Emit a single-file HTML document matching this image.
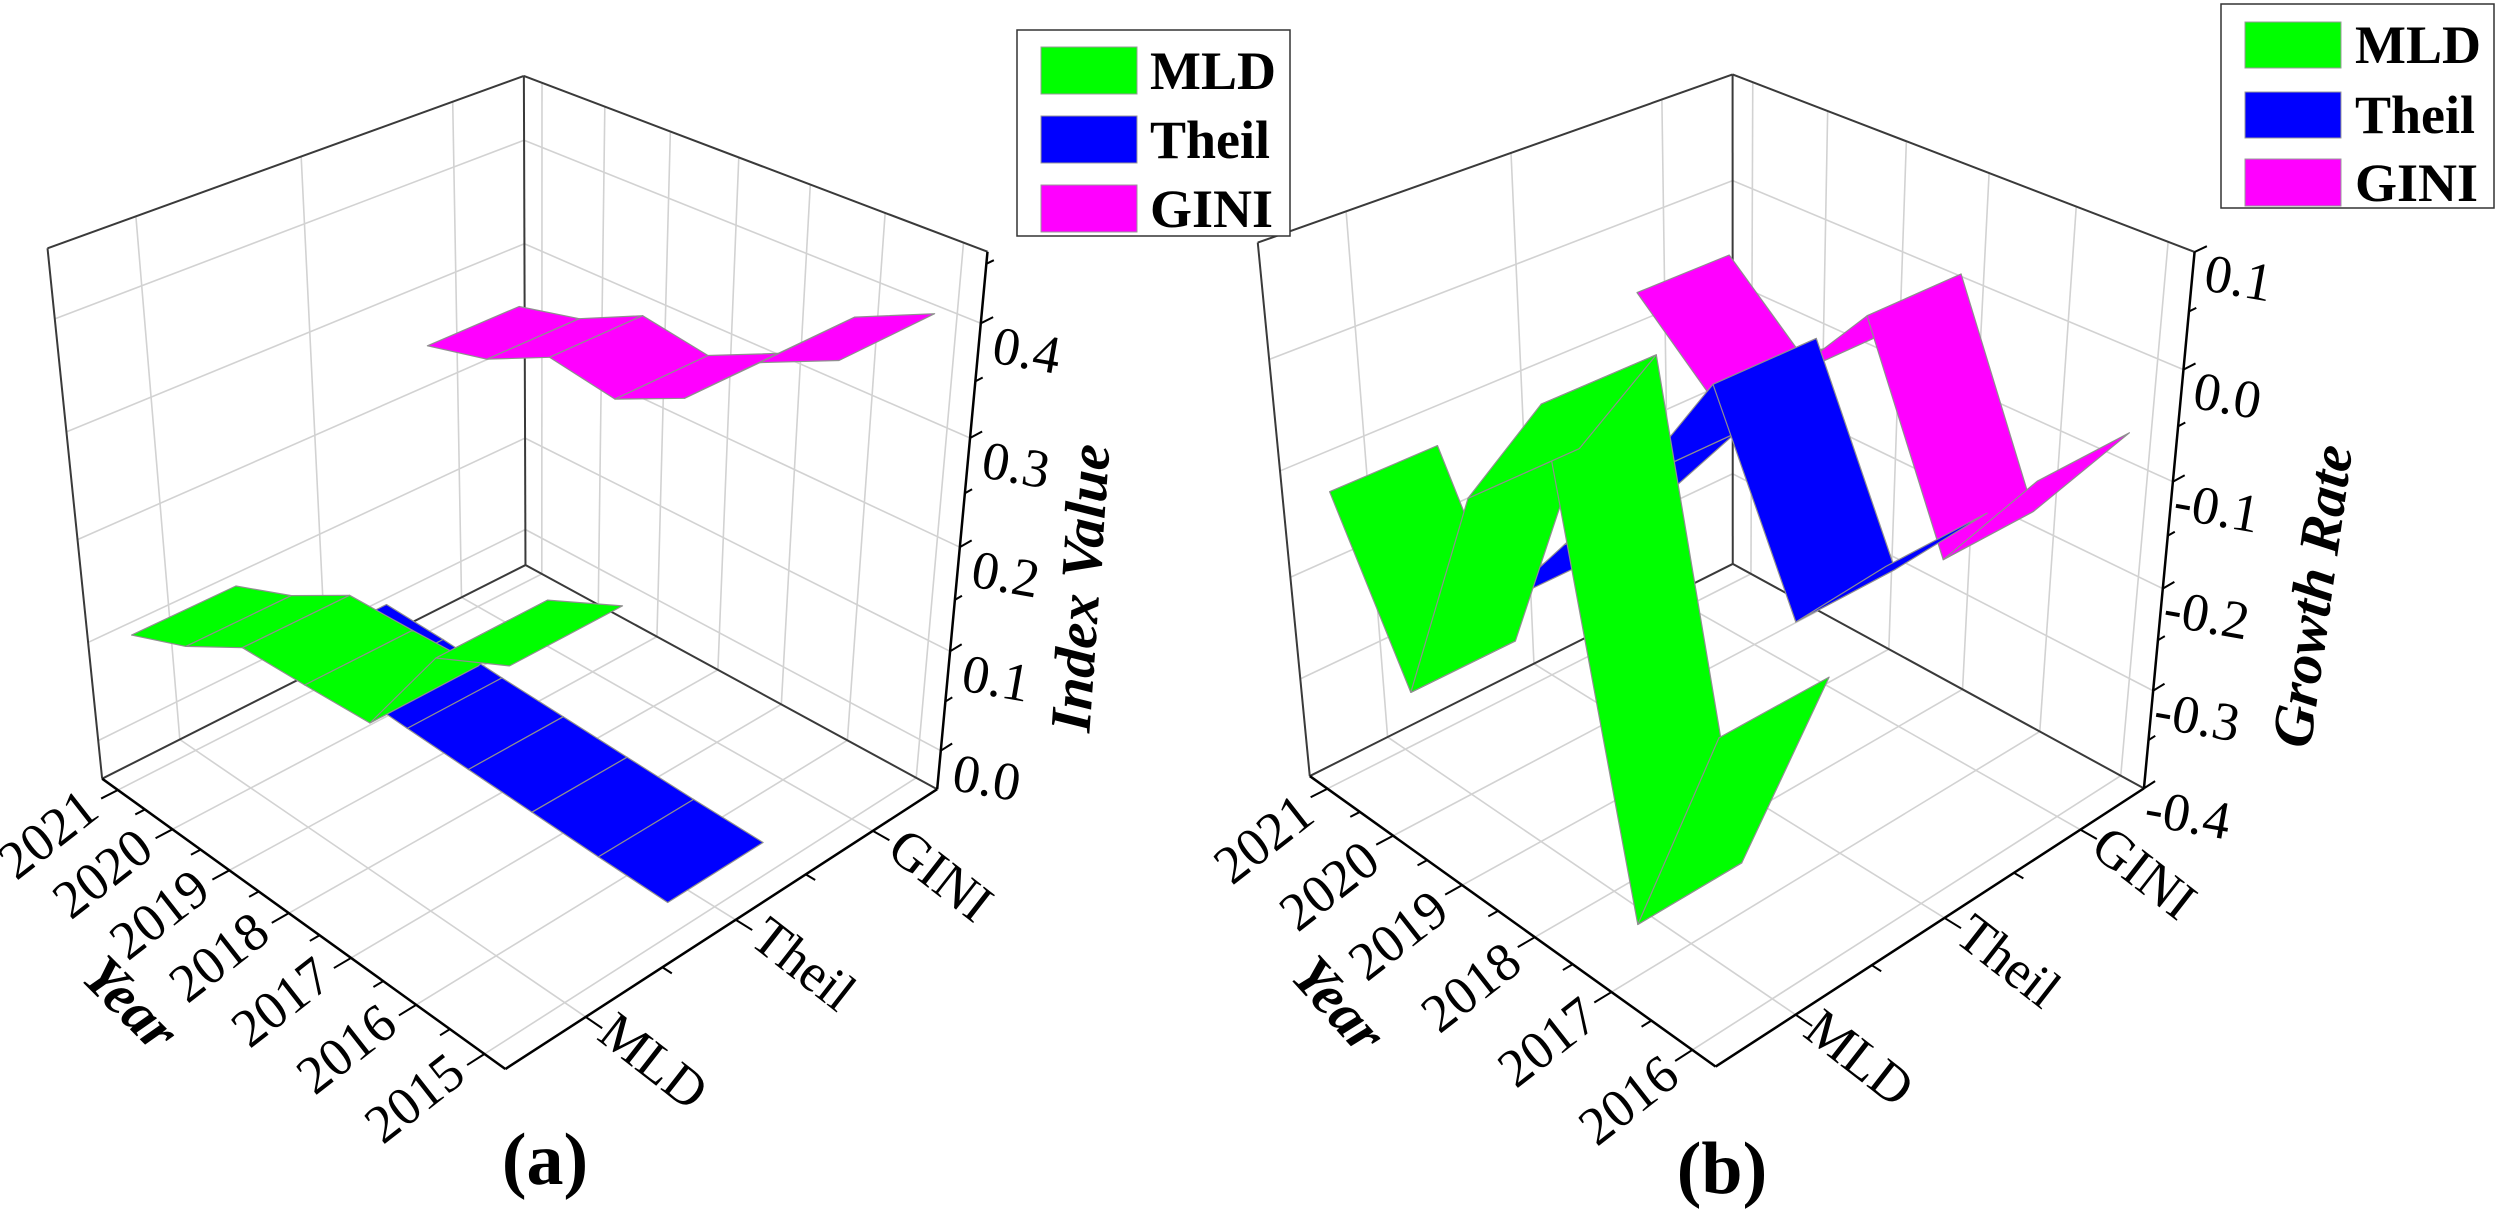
<!DOCTYPE html>
<html><head><meta charset="utf-8"><style>
html,body{margin:0;padding:0;background:#fff;}
svg{display:block;font-family:"Liberation Serif",serif;}
</style></head><body>
<svg id="fig" width="2500" height="1218" viewBox="0 0 2500 1218" xmlns="http://www.w3.org/2000/svg">
<rect x="0" y="0" width="2500" height="1218" fill="#fff"/>
<g id="panelA"></g>
<g id="panelB"></g>

<g>
<rect x="1017" y="30" width="273" height="206" fill="#fff" stroke="#333" stroke-width="1.5"/>
<g><rect x="1041" y="47" width="96" height="47" fill="#00ff00" stroke="#999"/><text x="1150" y="89" font-size="54" font-weight="bold">MLD</text></g>
<g><rect x="1041" y="116" width="96" height="47" fill="#0000ff" stroke="#999"/><text x="1150" y="158" font-size="54" font-weight="bold">Theil</text></g>
<g><rect x="1041" y="185" width="96" height="47" fill="#ff00ff" stroke="#999"/><text x="1150" y="227" font-size="54" font-weight="bold">GINI</text></g>
</g>
<g>
<rect x="2221" y="4" width="273" height="204" fill="#fff" stroke="#333" stroke-width="1.5"/>
<g><rect x="2245" y="22" width="96" height="46" fill="#00ff00" stroke="#999"/><text x="2355" y="63" font-size="54" font-weight="bold">MLD</text></g>
<g><rect x="2245" y="92" width="96" height="46" fill="#0000ff" stroke="#999"/><text x="2355" y="133" font-size="54" font-weight="bold">Theil</text></g>
<g><rect x="2245" y="159" width="96" height="47" fill="#ff00ff" stroke="#999"/><text x="2355" y="201" font-size="54" font-weight="bold">GINI</text></g>
</g>

<text x="0" y="0" transform="translate(1080,588) rotate(-86)" font-size="58" font-weight="bold" font-style="italic" text-anchor="middle" dominant-baseline="central">Index Value</text>
<text x="0" y="0" transform="translate(2312,596) rotate(-82)" font-size="58" font-weight="bold" font-style="italic" text-anchor="middle" dominant-baseline="central">Growth Rate</text>
<text x="0" y="0" transform="translate(131,1003) rotate(45)" font-size="58" font-weight="bold" font-style="italic" text-anchor="middle" dominant-baseline="central">Year</text>
<text x="0" y="0" transform="translate(1339,1004) rotate(48)" font-size="58" font-weight="bold" font-style="italic" text-anchor="middle" dominant-baseline="central">Year</text>
<text x="545" y="1160" font-size="74" font-weight="bold" text-anchor="middle" dominant-baseline="central">(a)</text>
<text x="1722" y="1169" font-size="74" font-weight="bold" text-anchor="middle" dominant-baseline="central">(b)</text>
</svg>
<script>
// ---- data panel (a) ----
const yearsA = [2015, 2016, 2017, 2018, 2019, 2020, 2021];
const categories = ["MLD", "Theil", "GINI"];
const mldA = [0.295, 0.265, 0.17, 0.167, 0.165, 0.13, 0.105];
const theilA = [-0.005, -0.003, 0.0, 0.003, 0.006, 0.01, 0.012];
const giniA = [0.41, 0.38, 0.32, 0.29, 0.30, 0.27, 0.255];
const zTicksA = [0.0, 0.1, 0.2, 0.3, 0.4];
const zTickLabelsA = ["0.0", "0.1", "0.2", "0.3", "0.4"];
// ---- data panel (b) ----
const yearsB = [2016, 2017, 2018, 2019, 2020, 2021];
const mldB = [-0.13, -0.35, 0.065, -0.05, -0.27, -0.12];
const theilB = [-0.06, -0.15, 0.02, -0.1, -0.2, -0.3];
const giniB = [-0.055, -0.165, 0.02, -0.07, -0.12, -0.055];
const zTicksB = [-0.4, -0.3, -0.2, -0.1, 0.0, 0.1];
const zTickLabelsB = ["-0.4", "-0.3", "-0.2", "-0.1", "0.0", "0.1"];

const colors = ["#00ff00", "#0000ff", "#ff00ff"];
const NS = "http://www.w3.org/2000/svg";

function solveCamera(pts){
  const A=[], b=[];
  pts.forEach(p=>{
    const [X,Y,Z,x,y]=p;
    A.push([X,Y,Z,1,0,0,0,0,-x*X,-x*Y,-x*Z]); b.push(x);
    A.push([0,0,0,0,X,Y,Z,1,-y*X,-y*Y,-y*Z]); b.push(y);
  });
  const n=11, M=[];
  for(let i=0;i<n;i++){M.push([]);for(let j=0;j<=n;j++){let s=0;for(let k=0;k<A.length;k++)s+=A[k][i]*(j<n?A[k][j]:b[k]);M[i].push(s);}}
  for(let c=0;c<n;c++){
    let piv=c;for(let r=c+1;r<n;r++)if(Math.abs(M[r][c])>Math.abs(M[piv][c]))piv=r;
    [M[c],M[piv]]=[M[piv],M[c]];
    for(let r=0;r<n;r++){if(r===c)continue;const f=M[r][c]/M[c][c];for(let j=c;j<=n;j++)M[r][j]-=f*M[c][j];}
  }
  return M.map((row,i)=>row[n]/row[i]);
}

function makePanel(cfg){
  const g=document.getElementById(cfg.id);
  const P=solveCamera(cfg.corners);
  const proj=(u,v,w)=>{const d=P[8]*u+P[9]*v+P[10]*w+1;return [(P[0]*u+P[1]*v+P[2]*w+P[3])/d,(P[4]*u+P[5]*v+P[6]*w+P[7])/d,d];};
  const sgn = proj(1,1,0)[2] > proj(0,0,0)[2] ? 1 : -1;
  const zw = z => (z-cfg.zmin)/(cfg.zmax-cfg.zmin);
  const n = cfg.years.length;
  const yv = i => cfg.v0 + (cfg.v1-cfg.v0)*i/(n-1);
  const cu = c => (c+0.5)/3;
  const pt = (u,v,w)=>{const q=proj(u,v,w);return q[0].toFixed(1)+","+q[1].toFixed(1);};
  function line(a,b,stroke,sw,name){
    const e=document.createElementNS(NS,"line");
    const p=proj(...a), q=proj(...b);
    e.setAttribute("x1",p[0]);e.setAttribute("y1",p[1]);e.setAttribute("x2",q[0]);e.setAttribute("y2",q[1]);
    e.setAttribute("stroke",stroke);e.setAttribute("stroke-width",sw);
    
    
    g.appendChild(e);
  }
  const grid="#d2d2d2";
  cfg.zTicks.forEach(z=>{const w=zw(z);
    line([0,1,w],[1,1,w],grid,1.6,"left-wall-gridline");
    line([1,1,w],[1,0,w],grid,1.6,"right-wall-gridline");});
  for(let c=0;c<3;c++){const u=cu(c);
    line([u,1,0],[u,1,1],grid,1.6,"left-wall-gridline");
    line([u,0,0],[u,1,0],grid,1.6,"floor-gridline");}
  for(let i=0;i<n;i++){const v=yv(i);
    line([1,v,0],[1,v,1],grid,1.6,"right-wall-gridline");
    line([0,v,0],[1,v,0],grid,1.6,"floor-gridline");}
  const edge="#3a3a3a";
  line([0,1,0],[0,1,1],edge,2,"box-edge");
  line([0,1,1],[1,1,1],edge,2,"box-edge");
  line([1,1,0],[1,1,1],edge,2,"box-edge");
  line([1,1,1],[1,0,1],edge,2,"box-edge");
  line([0,1,0],[1,1,0],edge,2,"box-edge");
  line([1,1,0],[1,0,0],edge,2,"box-edge");
  line([0,0,0],[0,1,0],"#000",2.5,"year-axis");
  line([0,0,0],[1,0,0],"#000",2.5,"category-axis");
  line([1,0,0],[1,0,1],"#000",2.5,"z-axis");
  for(let i=0;i<n;i++){const v=yv(i);
    line([0,v,0],[-0.035,v,0],"#000",2,"year-tick");
    if(i<n-1){const vm=(yv(i)+yv(i+1))/2;line([0,vm,0],[-0.02,vm,0],"#000",2,"year-minor-tick");}}
  for(let c=0;c<3;c++){const u=cu(c);
    line([u,0,0],[u,-0.035,0],"#000",2,"category-tick");
    if(c<2){line([(c+1)/3,0,0],[(c+1)/3,-0.02,0],"#000",2,"category-minor-tick");}}
  cfg.zTicks.forEach((z,k)=>{const w=zw(z);
    line([1,0,w],[1.03,0,w],"#000",2,"z-tick");
    const wm=zw(z+0.05); if(wm<=1.001) line([1,0,wm],[1.018,0,wm],"#000",2,"z-minor-tick");});
  const series=[cfg.mld,cfg.theil,cfg.gini];
  const hw=0.11;
  const quads=[];
  series.forEach((vals,s)=>{
    const uc=cu(s), u0=uc-hw, u1=uc+hw;
    for(let i=0;i<n-1;i++){
      const va=yv(i), vb=yv(i+1), wa=zw(vals[i]), wb=zw(vals[i+1]);
      const corners=[[u0,va,wa],[u1,va,wa],[u1,vb,wb],[u0,vb,wb]];
      const depth=corners.reduce((a,c)=>a+proj(...c)[2],0)/4;
      quads.push({s,i,corners,depth});
    }
  });
  quads.sort((a,b)=>sgn*(b.depth-a.depth));
  quads.forEach(q=>{
    const e=document.createElementNS(NS,"polygon");
    e.setAttribute("points",q.corners.map(c=>pt(...c)).join(" "));
    e.setAttribute("fill",colors[q.s]);
    e.setAttribute("stroke","#8f8f8f");
    e.setAttribute("stroke-width","1.2");
    e.setAttribute("stroke-linejoin","round");
    
    
    g.appendChild(e);
  });
  function label(txt,pos,off,rot,name){
    const e=document.createElementNS(NS,"text");
    const x=pos[0]+off[0], y=pos[1]+off[1];
    e.setAttribute("transform","translate("+x.toFixed(1)+","+y.toFixed(1)+") rotate("+rot+")");
    e.setAttribute("font-size","54");
    e.setAttribute("text-anchor","middle");
    e.setAttribute("dominant-baseline","central");
    e.textContent=txt;
    
    
    g.appendChild(e);
  }
  cfg.years.forEach((yr,i)=>label(String(yr),proj(0,yv(i),0),cfg.yearOff,-38,"year-tick-label"));
  categories.forEach((c,k)=>label(c,proj(cu(k),0,0),cfg.catOff,38,"category-tick-label"));
  cfg.zTicks.forEach((z,k)=>label(cfg.zLabels[k],proj(1,0,zw(z)),cfg.zOff,10,"z-tick-label"));
}

makePanel({id:"panelA",
  corners:[[0,0,0,505,1069],[1,0,0,937,789],[0,1,0,102,779],[1,1,0,526,565],[0,1,1,48,248],[1,1,1,523,76],[1,0,1,988,252]],
  zmin:-0.04,zmax:0.46,years:yearsA,v0:0.045,v1:0.955,
  mld:mldA,theil:theilA,gini:giniA,zTicks:zTicksA,zLabels:zTickLabelsA,
  yearOff:[-70,44],catOff:[68,44],zOff:[46,27]});
makePanel({id:"panelB",
  corners:[[0,0,0,1714,1066],[1,0,0,2145,788],[0,1,0,1311,778],[1,1,0,1732,563],[0,1,1,1258,241],[1,1,1,1732,75],[1,0,1,2195,253]],
  zmin:-0.4,zmax:0.1,years:yearsB,v0:0.05,v1:0.95,
  mld:mldB,theil:theilB,gini:giniB,zTicks:zTicksB,zLabels:zTickLabelsB,
  yearOff:[-64,50],catOff:[64,43],zOff:[44,26]});
</script>
</body></html>
